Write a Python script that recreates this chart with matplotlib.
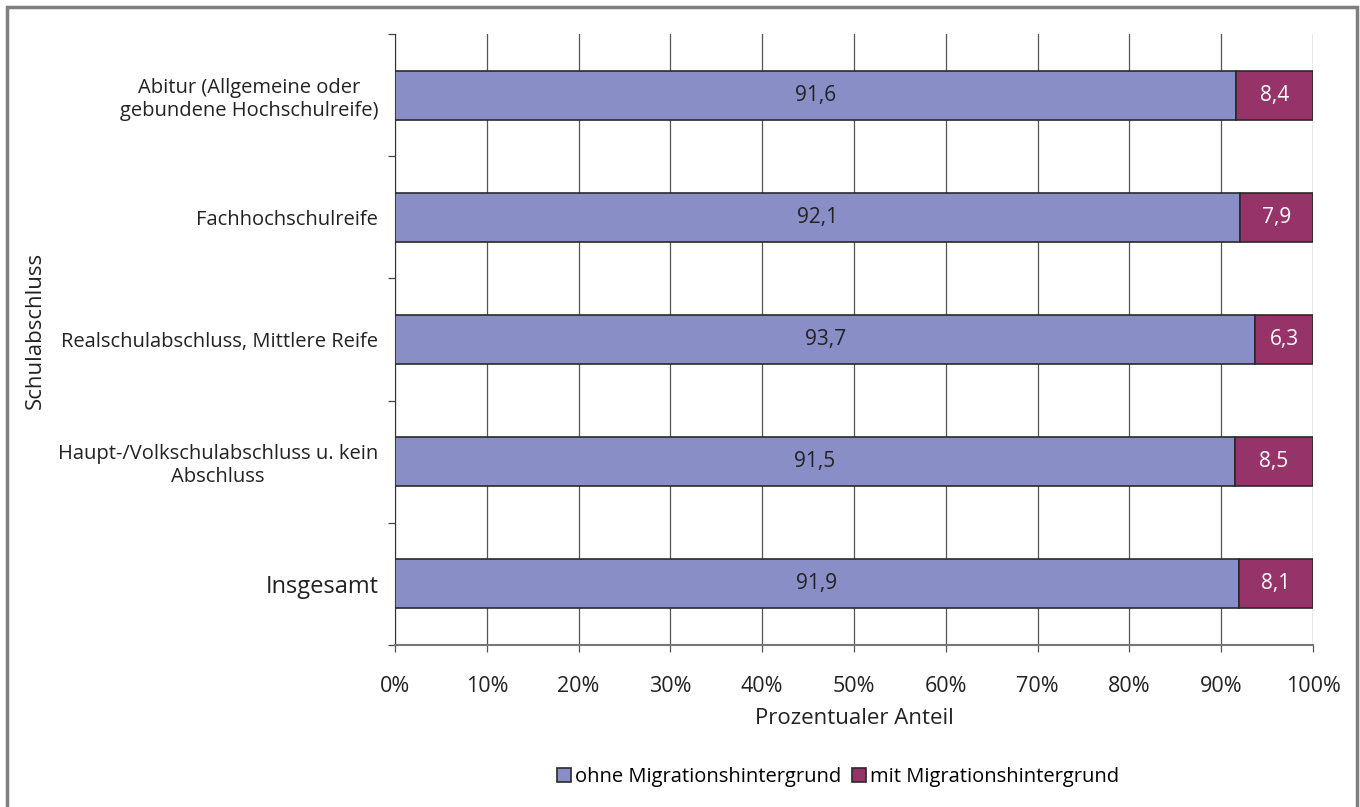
import matplotlib.pyplot as plt
from matplotlib.patches import Rectangle

plt.rcParams['font.family'] = ['Open Sans', 'DejaVu Sans']

# categories from top to bottom
categories = [
    "Abitur (Allgemeine oder\ngebundene Hochschulreife)",
    "Fachhochschulreife",
    "Realschulabschluss, Mittlere Reife",
    "Haupt-/Volkschulabschluss u. kein\nAbschluss",
    "Insgesamt",
]
ohne = [91.6, 92.1, 93.7, 91.5, 91.9]
mit = [8.4, 7.9, 6.3, 8.5, 8.1]
x_ticks = list(range(0, 101, 10))

col_ohne = '#8a8ec6'
col_mit = '#96346a'
edge = '#2a2a2a'
txt = '#222222'

fig = plt.figure(figsize=(13.6, 8.07), dpi=100)
ax = fig.add_axes([395 / 1360, 1 - 645 / 807, 918 / 1360, 611 / 807])

# outer frame (bottom edge runs off the picture)
fig.patches.append(Rectangle((7 / 1360, -0.02), 1350 / 1360, 800 / 807 + 0.02,
                             transform=fig.transFigure, fill=False,
                             edgecolor='#7f7f7f', linewidth=2.5))

n = len(categories)
ypos = [n - 1 - i for i in range(n)]
ax.barh(ypos, ohne, height=0.4, color=col_ohne, edgecolor=edge, linewidth=1.2, zorder=3)
ax.barh(ypos, mit, left=ohne, height=0.4, color=col_mit, edgecolor=edge, linewidth=1.2, zorder=3)

for y, a, b in zip(ypos, ohne, mit):
    ax.text(a / 2, y, f"{a:.1f}".replace('.', ','), ha='center', va='center',
            fontsize=15, color=txt, zorder=4)
    ax.text(a + b / 2, y, f"{b:.1f}".replace('.', ','), ha='center', va='center',
            fontsize=15, color='white', zorder=4)

ax.set_xlim(0, 100)
ax.set_ylim(-0.5, n - 0.5)
ax.set_xticks(x_ticks)
ax.set_xticklabels([f"{t}%" for t in x_ticks], fontsize=15.5, color=txt)
ax.xaxis.grid(True, color='#555555', linewidth=0.9, zorder=0)

ax.set_yticks(ypos)
ax.set_yticklabels(categories, fontsize=14.5, color=txt)
for lab in ax.get_yticklabels():
    lab.set_multialignment('center')
ax.get_yticklabels()[-1].set_fontsize(17)
ax.tick_params(axis='y', length=0, pad=12)
ax.set_yticks([i - 0.5 for i in range(n + 1)], minor=True)
ax.tick_params(axis='y', which='minor', length=5, color='#444444', width=0.9)
ax.tick_params(axis='x', length=5, color='#555555', width=0.9, pad=17)

ax.spines['top'].set_visible(False)
ax.spines['right'].set_visible(False)
ax.spines['left'].set_color('#333333')
ax.spines['bottom'].set_color('#777777')
ax.spines['bottom'].set_linewidth(1.5)

ax.set_xlabel("Prozentualer Anteil", fontsize=16, color=txt, labelpad=8)
fig.text(35 / 1360, 1 - 330 / 807, "Schulabschluss", rotation=90, ha='center', va='center',
         fontsize=16, color=txt)

handles = [Rectangle((0, 0), 1, 1, facecolor=col_ohne, edgecolor=edge, linewidth=1.2),
           Rectangle((0, 0), 1, 1, facecolor=col_mit, edgecolor=edge, linewidth=1.2)]
fig.legend(handles, ["ohne Migrationshintergrund", "mit Migrationshintergrund"],
           loc='center', bbox_to_anchor=(838 / 1360, 1 - 777 / 807), ncol=2, frameon=False,
           fontsize=14.5, handlelength=0.7, handleheight=0.7, handletextpad=0.2,
           columnspacing=0.5)

fig.savefig('out.png', dpi=100)
